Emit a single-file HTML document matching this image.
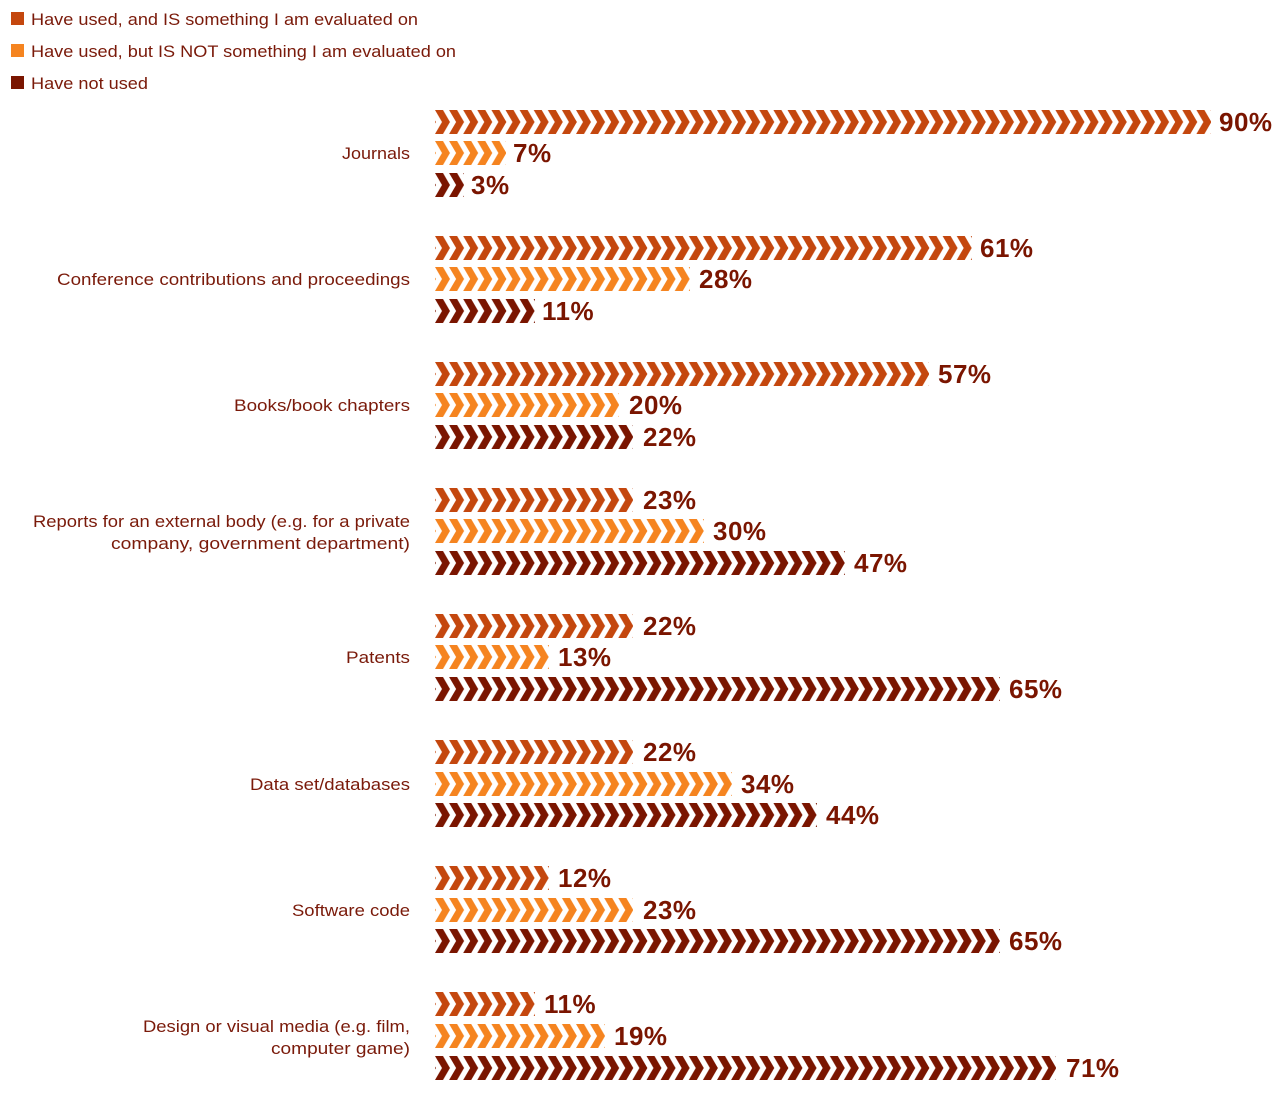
<!DOCTYPE html>
<html><head><meta charset="utf-8"><style>
html,body{margin:0;padding:0;background:#fff;}
svg{display:block;font-family:"Liberation Sans",sans-serif;}
.c{font-size:17px;fill:#7a1a0a;}
.p{font-size:26px;font-weight:bold;fill:#7a1500;letter-spacing:0.5px;}
</style></head><body>
<svg width="1281" height="1093" viewBox="0 0 1281 1093" xmlns="http://www.w3.org/2000/svg">
<defs>
<pattern id="a" patternUnits="userSpaceOnUse" width="14.1" height="24"><polygon points="0,0 8,0 15,12 8,24 0,24 7,12" fill="#c4470e"/><polygon points="-14.1,0 -6.1,0 0.9,12 -6.1,24 -14.1,24 -7.1,12" fill="#c4470e"/></pattern>
<pattern id="b" patternUnits="userSpaceOnUse" width="14.1" height="24"><polygon points="0,0 8,0 15,12 8,24 0,24 7,12" fill="#f58420"/><polygon points="-14.1,0 -6.1,0 0.9,12 -6.1,24 -14.1,24 -7.1,12" fill="#f58420"/></pattern>
<pattern id="d" patternUnits="userSpaceOnUse" width="14.1" height="24"><polygon points="0,0 8,0 15,12 8,24 0,24 7,12" fill="#7a1500"/><polygon points="-14.1,0 -6.1,0 0.9,12 -6.1,24 -14.1,24 -7.1,12" fill="#7a1500"/></pattern>
</defs>
<rect x="11" y="12" width="13" height="13" fill="#c4470e"/>
<rect x="11" y="44" width="13" height="13" fill="#f58420"/>
<rect x="11" y="76" width="13" height="13" fill="#7a1500"/>
<text class="c" x="31" y="25" textLength="387" lengthAdjust="spacingAndGlyphs">Have used, and IS something I am evaluated on</text>
<text class="c" x="31" y="57" textLength="425" lengthAdjust="spacingAndGlyphs">Have used, but IS NOT something I am evaluated on</text>
<text class="c" x="31" y="89" textLength="117" lengthAdjust="spacingAndGlyphs">Have not used</text>

<g class="c" text-anchor="end">
<text x="410" y="159" textLength="68" lengthAdjust="spacingAndGlyphs">Journals</text>
<text x="410" y="285" textLength="353" lengthAdjust="spacingAndGlyphs">Conference contributions and proceedings</text>
<text x="410" y="411" textLength="176" lengthAdjust="spacingAndGlyphs">Books/book chapters</text>
<text x="410" y="527" textLength="377" lengthAdjust="spacingAndGlyphs">Reports for an external body (e.g. for a private</text>
<text x="410" y="549" textLength="299" lengthAdjust="spacingAndGlyphs">company, government department)</text>
<text x="410" y="663" textLength="64" lengthAdjust="spacingAndGlyphs">Patents</text>
<text x="410" y="790" textLength="160" lengthAdjust="spacingAndGlyphs">Data set/databases</text>
<text x="410" y="916" textLength="118" lengthAdjust="spacingAndGlyphs">Software code</text>
<text x="410" y="1032" textLength="267" lengthAdjust="spacingAndGlyphs">Design or visual media (e.g. film,</text>
<text x="410" y="1054" textLength="139" lengthAdjust="spacingAndGlyphs">computer game)</text>
</g>

<g transform="translate(435,110)"><rect width="776" height="24" fill="url(#a)"/></g><text class="p" x="1219" y="131">90%</text>
<g transform="translate(435,141)"><rect width="71" height="24" fill="url(#b)"/></g><text class="p" x="513" y="162">7%</text>
<g transform="translate(435,173)"><rect width="29" height="24" fill="url(#d)"/></g><text class="p" x="471" y="194">3%</text>

<g transform="translate(435,236)"><rect width="537" height="24" fill="url(#a)"/></g><text class="p" x="980" y="257">61%</text>
<g transform="translate(435,267)"><rect width="255" height="24" fill="url(#b)"/></g><text class="p" x="699" y="288">28%</text>
<g transform="translate(435,299)"><rect width="100" height="24" fill="url(#d)"/></g><text class="p" x="542" y="320">11%</text>

<g transform="translate(435,362)"><rect width="494" height="24" fill="url(#a)"/></g><text class="p" x="938" y="383">57%</text>
<g transform="translate(435,393)"><rect width="184" height="24" fill="url(#b)"/></g><text class="p" x="629" y="414">20%</text>
<g transform="translate(435,425)"><rect width="198" height="24" fill="url(#d)"/></g><text class="p" x="643" y="446">22%</text>

<g transform="translate(435,488)"><rect width="198" height="24" fill="url(#a)"/></g><text class="p" x="643" y="509">23%</text>
<g transform="translate(435,519)"><rect width="269" height="24" fill="url(#b)"/></g><text class="p" x="713" y="540">30%</text>
<g transform="translate(435,551)"><rect width="410" height="24" fill="url(#d)"/></g><text class="p" x="854" y="572">47%</text>

<g transform="translate(435,614)"><rect width="198" height="24" fill="url(#a)"/></g><text class="p" x="643" y="635">22%</text>
<g transform="translate(435,645)"><rect width="114" height="24" fill="url(#b)"/></g><text class="p" x="558" y="666">13%</text>
<g transform="translate(435,677)"><rect width="565" height="24" fill="url(#d)"/></g><text class="p" x="1009" y="698">65%</text>

<g transform="translate(435,740)"><rect width="198" height="24" fill="url(#a)"/></g><text class="p" x="643" y="761">22%</text>
<g transform="translate(435,772)"><rect width="297" height="24" fill="url(#b)"/></g><text class="p" x="741" y="793">34%</text>
<g transform="translate(435,803)"><rect width="382" height="24" fill="url(#d)"/></g><text class="p" x="826" y="824">44%</text>

<g transform="translate(435,866)"><rect width="114" height="24" fill="url(#a)"/></g><text class="p" x="558" y="887">12%</text>
<g transform="translate(435,898)"><rect width="198" height="24" fill="url(#b)"/></g><text class="p" x="643" y="919">23%</text>
<g transform="translate(435,929)"><rect width="565" height="24" fill="url(#d)"/></g><text class="p" x="1009" y="950">65%</text>

<g transform="translate(435,992)"><rect width="100" height="24" fill="url(#a)"/></g><text class="p" x="544" y="1013">11%</text>
<g transform="translate(435,1024)"><rect width="170" height="24" fill="url(#b)"/></g><text class="p" x="614" y="1045">19%</text>
<g transform="translate(435,1056)"><rect width="621" height="24" fill="url(#d)"/></g><text class="p" x="1066" y="1077">71%</text>
</svg>
</body></html>
